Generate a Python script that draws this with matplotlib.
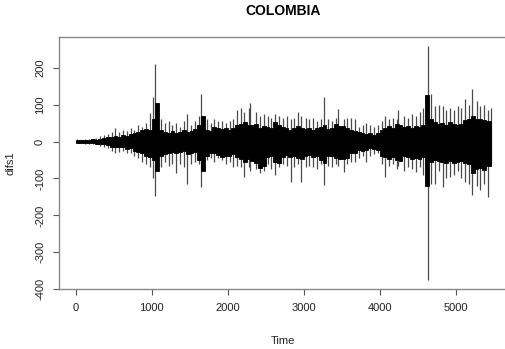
import numpy as np
import matplotlib
matplotlib.use("Agg")
import matplotlib.pyplot as plt

plt.rcParams["font.family"] = ["Liberation Sans", "DejaVu Sans"]

# dense black band of the series, one pair per 50 time units (last bin 5400-5460)
core_start = np.arange(0, 5450, 50)
core_width = [50] * 108 + [60]
core_hi = [3, 4, 5, 4, 6, 5, 8, 10, 12, 11,
           16, 13, 18, 15, 20, 22, 26, 30, 35, 30,
           60, 105, 32, 27, 24, 28, 22, 26, 30, 25,
           28, 33, 45, 70, 32, 28, 40, 38, 33, 36,
           32, 38, 44, 48, 52, 46, 44, 48, 38, 42,
           40, 36, 52, 46, 40, 38, 32, 36, 42, 38,
           34, 36, 32, 38, 40, 45, 34, 38, 48, 42,
           42, 38, 32, 28, 26, 24, 20, 22, 18, 22,
           32, 38, 42, 38, 48, 44, 40, 42, 38, 42,
           40, 44, 125, 60, 52, 48, 50, 46, 52, 48,
           44, 48, 58, 62, 70, 60, 62, 58, 55]
core_lo = [-3, -3, -4, -5, -4, -6, -7, -8, -10, -14,
           -14, -16, -15, -19, -18, -25, -28, -32, -38, -42,
           -50, -80, -38, -33, -30, -27, -31, -28, -26, -33,
           -30, -28, -50, -80, -38, -30, -30, -36, -42, -38,
           -40, -35, -42, -46, -55, -48, -52, -58, -72, -65,
           -42, -38, -55, -58, -42, -36, -42, -38, -45, -48,
           -40, -36, -42, -38, -50, -58, -40, -38, -44, -48,
           -46, -44, -30, -32, -24, -26, -22, -18, -20, -22,
           -38, -42, -48, -42, -50, -52, -38, -42, -46, -44,
           -48, -42, -120, -55, -50, -52, -55, -58, -52, -58,
           -55, -52, -58, -62, -85, -75, -72, -78, -65]

# extreme values (spikes), one pair per 50 time units
spike_time = [25, 75, 125, 175, 225, 275, 325, 375, 425, 475,
              525, 575, 625, 675, 725, 775, 825, 875, 925, 975,
              1020, 1045, 1125, 1175, 1225, 1275, 1325, 1375, 1425, 1465,
              1525, 1575, 1625, 1655, 1725, 1775, 1825, 1875, 1925, 1975,
              2025, 2075, 2125, 2175, 2215, 2275, 2295, 2375, 2425, 2475,
              2525, 2575, 2625, 2675, 2725, 2775, 2840, 2875, 2925, 2970,
              3025, 3075, 3125, 3175, 3225, 3272, 3325, 3375, 3425, 3447,
              3525, 3575, 3625, 3675, 3725, 3775, 3825, 3875, 3925, 3975,
              4025, 4070, 4125, 4175, 4225, 4240, 4325, 4375, 4425, 4475,
              4525, 4575, 4632, 4675, 4725, 4775, 4840, 4875, 4925, 4975,
              5025, 5075, 5122, 5175, 5214, 5275, 5325, 5375, 5420, 5460]
spike_hi = [6, 5, 7, 8, 8, 10, 14, 18, 20, 25,
            38, 25, 30, 28, 38, 30, 45, 40, 50, 76,
            120, 211, 60, 50, 55, 45, 50, 40, 55, 75,
            45, 55, 70, 128, 60, 50, 60, 55, 55, 50,
            55, 60, 85, 90, 80, 90, 103, 80, 70, 75,
            70, 65, 75, 70, 65, 70, 60, 65, 80, 70,
            65, 60, 65, 55, 60, 121, 60, 55, 65, 89,
            60, 63, 65, 60, 40, 45, 50, 45, 40, 46,
            55, 68, 60, 65, 60, 86, 70, 65, 75, 70,
            80, 90, 258, 130, 95, 100, 95, 85, 90, 85,
            95, 90, 116, 100, 143, 110, 95, 100, 85, 90]
spike_lo = [-4, -5, -6, -7, -7, -8, -12, -15, -18, -25,
            -30, -28, -25, -32, -30, -40, -45, -55, -60, -70,
            -100, -147, -70, -55, -65, -60, -85, -60, -70, -114,
            -60, -55, -60, -123, -50, -45, -55, -45, -50, -60,
            -55, -70, -65, -70, -96, -70, -80, -75, -85, -80,
            -60, -75, -91, -70, -60, -65, -109, -70, -60, -110,
            -70, -65, -70, -75, -60, -118, -65, -70, -60, -65,
            -82, -60, -55, -55, -45, -40, -55, -40, -35, -30,
            -60, -96, -65, -60, -75, -65, -80, -70, -75, -82,
            -70, -90, -375, -115, -115, -80, -123, -100, -95, -90,
            -80, -100, -110, -115, -145, -120, -130, -115, -150, -60]

x_ticks = [0, 1000, 2000, 3000, 4000, 5000]
y_ticks = [-400, -300, -200, -100, 0, 100, 200]

fig = plt.figure(figsize=(5.06, 3.49), dpi=100)
ax = fig.add_axes([59 / 506, (349 - 289.3) / 349, 448.2 / 506, 252.3 / 349])

ax.vlines(spike_time, spike_lo, spike_hi, color="#4a4a4a", linewidth=0.9,
          zorder=1)
ax.bar(core_start, np.array(core_hi) - np.array(core_lo), bottom=core_lo,
       width=core_width, align="edge", color="black",
       edgecolor="black", linewidth=0.6, zorder=2)

ax.set_xlim(-218, 5678)
ax.set_ylim(-400, 283)
ax.set_xticks(x_ticks)
ax.set_yticks(y_ticks)
ax.set_yticklabels([str(v) for v in y_ticks], rotation=90, va="center")
ax.tick_params(labelsize=8, length=4, color="#555555", labelcolor="#222222")
ax.tick_params(axis="x", pad=6)
ax.tick_params(axis="y", pad=6)
for s in ax.spines.values():
    s.set_color("#888888")
    s.set_linewidth(1.0)

ax.set_xlabel("Time", fontsize=8, color="#222222")
ax.xaxis.set_label_coords(0.5, -0.185)
ax.set_ylabel("difs1", fontsize=8, color="#222222")
ax.yaxis.set_label_coords(-0.098, 0.5)
fig.text(283 / 506, 1 - 11 / 349, "COLOMBIA", ha="center", va="center",
         fontsize=10, fontweight="bold")

fig.savefig("out.png", dpi=100)
